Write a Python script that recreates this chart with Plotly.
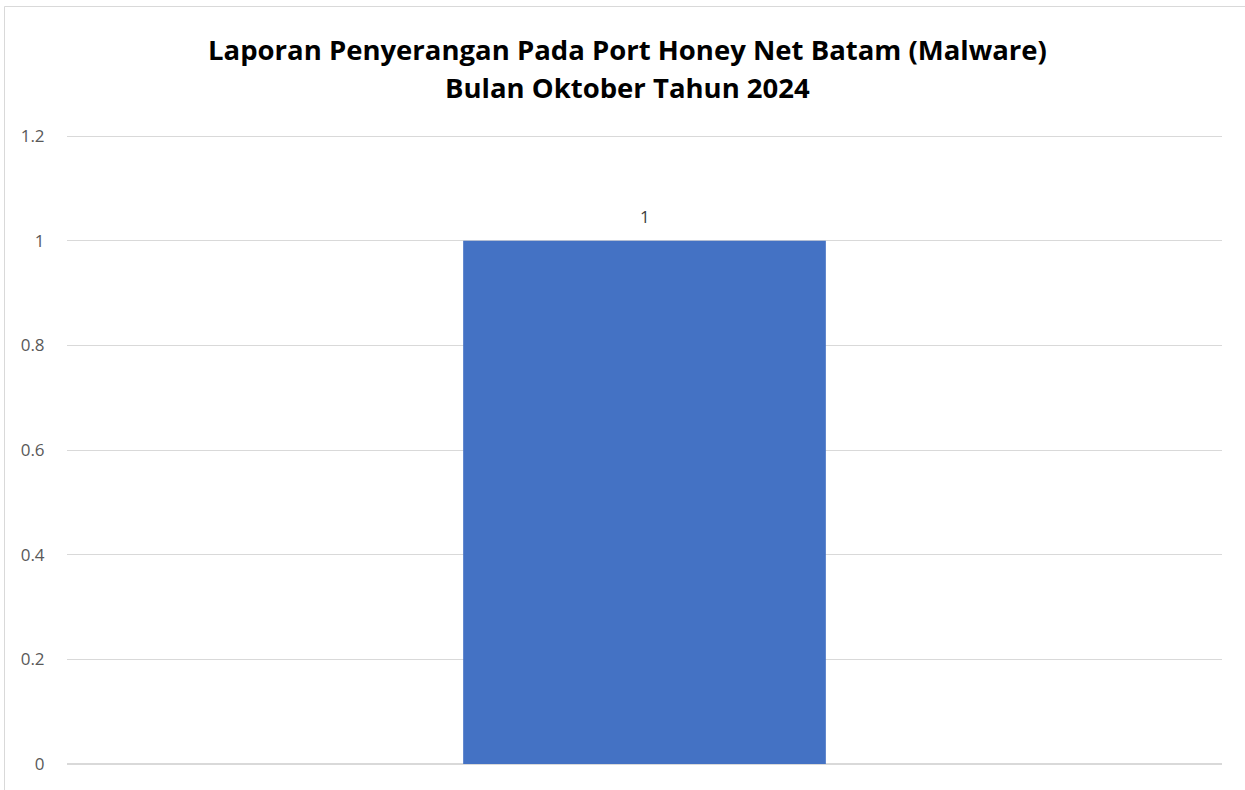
import plotly.graph_objects as go

categories = ["Malware"]
values = [1]
y_ticks = [0, 0.2, 0.4, 0.6, 0.8, 1, 1.2]
y_tick_labels = ["0", "0.2", "0.4", "0.6", "0.8", "1", "1.2"]
title_lines = ["Laporan Penyerangan Pada Port Honey Net Batam (Malware)",
               "Bulan Oktober Tahun 2024"]

W, H = 1245, 790
ml, mr, mt, mb = 67, 23, 131, 26
pw = W - ml - mr
ph = H - mt - mb

fig = go.Figure()
fig.add_trace(go.Bar(
    x=categories, y=values,
    marker=dict(color="#4472C4", line=dict(width=0)),
    width=0.314,
    hoverinfo="x+y",
))

for c, v in zip(categories, values):
    fig.add_annotation(x=c, y=v, text=str(v), showarrow=False,
                       yanchor="bottom", yshift=11,
                       font=dict(family="Open Sans", size=17, color="#404040"))

# title, two centred bold lines
for line, yc in zip(title_lines, [50, 88]):
    fig.add_annotation(xref="paper", yref="paper",
                       x=(627 - ml) / pw, y=(H - mb - yc) / ph,
                       xanchor="center", yanchor="middle", showarrow=False,
                       text="<b>" + line + "</b>",
                       font=dict(family="Open Sans", size=27.5, color="#000000"))

# chart border (extends beyond visible page on right/bottom)
fig.add_shape(type="rect", xref="paper", yref="paper",
              x0=(4.5 - ml) / pw, x1=(1300 - ml) / pw,
              y0=-(80) / ph, y1=(H - 6.5 - mb) / ph,
              line=dict(color="#D9D9D9", width=1), fillcolor="rgba(0,0,0,0)",
              layer="below")

fig.update_layout(
    width=W, height=H,
    margin=dict(l=ml, r=mr, t=mt, b=mb, pad=0),
    paper_bgcolor="white", plot_bgcolor="white",
    showlegend=False,
    xaxis=dict(showticklabels=False, showgrid=False, zeroline=False,
               showline=False, ticks="", range=[-0.5, 0.5]),
    yaxis=dict(range=[0, 1.21], tickvals=y_ticks, ticktext=y_tick_labels,
               showgrid=True, gridcolor="#D9D9D9", gridwidth=1,
               zeroline=True, zerolinecolor="#D9D9D9", zerolinewidth=1.5,
               showline=False, ticks="outside", ticklen=18,
               tickcolor="rgba(0,0,0,0)",
               tickfont=dict(family="Open Sans", size=17, color="#595959")),
)

fig.write_html("out.html",
               config={"displayModeBar": False},
               post_script="document.body.style.margin='0';document.body.style.overflow='hidden';")
